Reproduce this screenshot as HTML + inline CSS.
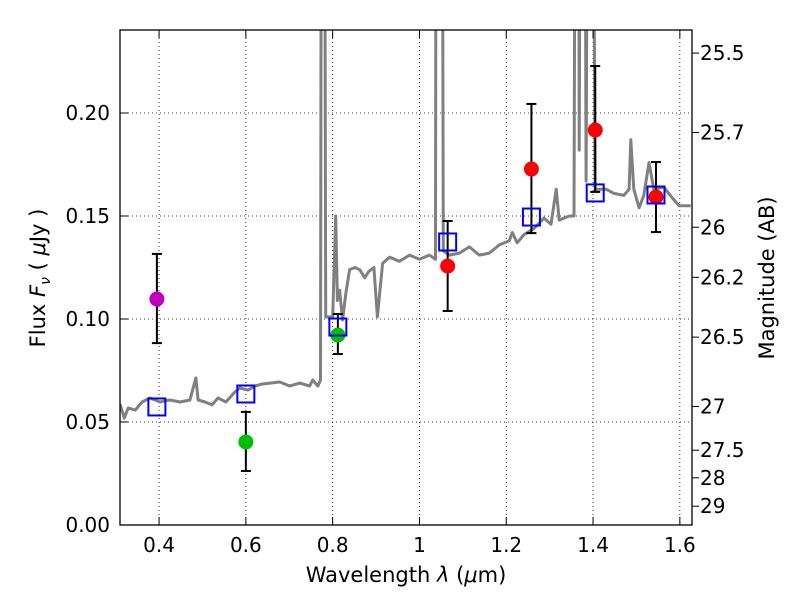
<!DOCTYPE html>
<html><head><meta charset="utf-8"><style>
body{margin:0;background:#fff}
svg{display:block;font-family:"DejaVu Sans","Liberation Sans",sans-serif}
</style></head><body>
<svg id="chart" width="800" height="600">
<defs><clipPath id="clip"><rect x="120" y="30" width="572" height="495"/></clipPath></defs>
<rect width="800" height="600" fill="#fff"/>
<g id="grid"></g>
<g id="spec" clip-path="url(#clip)"></g>
<g id="marks" clip-path="url(#clip)"></g>
<rect x="120" y="30" width="572" height="495" fill="none" stroke="#000" stroke-width="1.3"/>
<g id="axes"></g>
<text x="406" y="582" font-size="21" text-anchor="middle">Wavelength  <tspan font-style="italic">λ</tspan> (<tspan font-style="italic">μ</tspan>m)</text>
<text transform="translate(45,278) rotate(-90)" font-size="21" text-anchor="middle">Flux  <tspan font-style="italic">F</tspan><tspan font-style="italic" font-size="14" dy="5">ν</tspan><tspan dy="-5">  (  </tspan><tspan font-style="italic">μ</tspan>Jy )</text>
<text transform="translate(774,278) rotate(-90)" font-size="21" text-anchor="middle">Magnitude (AB)</text>
</svg>
<script>
const xTicks=[0.4,0.6,0.8,1.0,1.2,1.4,1.6];
const xTickLabels=["0.4","0.6","0.8","1","1.2","1.4","1.6"];
const yTicks=[0,0.05,0.10,0.15,0.20];
const yTickLabels=["0.00","0.05","0.10","0.15","0.20"];
const magTicks=[25.5,25.7,26,26.2,26.5,27,27.5,28,29];
const magTickLabels=["25.5","25.7","26","26.2","26.5","27","27.5","28","29"];
const specLam=[0.310,0.320,0.329,0.345,0.361,0.379,0.402,0.425,0.448,0.471,0.485,0.490,0.506,0.522,0.536,0.554,0.575,0.586,0.605,0.621,0.637,0.655,0.678,0.701,0.724,0.747,0.754,0.766,0.772,0.775,0.780,0.784,0.800,0.807,0.811,0.816,0.823,0.830,0.839,0.851,0.862,0.874,0.883,0.895,0.903,0.915,0.931,0.954,0.977,1.000,1.023,1.037,1.039,1.051,1.055,1.069,1.092,1.115,1.138,1.161,1.184,1.207,1.214,1.225,1.241,1.264,1.287,1.303,1.315,1.322,1.345,1.356,1.361,1.366,1.368,1.373,1.379,1.384,1.390,1.396,1.405,1.430,1.448,1.471,1.483,1.487,1.494,1.506,1.517,1.529,1.540,1.563,1.582,1.598,1.625];
const specFlux=[0.0587,0.0519,0.0568,0.0558,0.0597,0.0617,0.0597,0.0607,0.0597,0.0607,0.0714,0.0607,0.0597,0.0583,0.0617,0.0597,0.0646,0.0665,0.0655,0.0675,0.0684,0.0689,0.0694,0.0675,0.0689,0.0675,0.0704,0.0675,0.0704,0.5,0.5,0.101,0.101,0.150,0.109,0.114,0.0995,0.112,0.124,0.125,0.124,0.120,0.123,0.125,0.101,0.127,0.130,0.128,0.131,0.129,0.131,0.129,0.5,0.5,0.133,0.131,0.132,0.135,0.131,0.132,0.136,0.138,0.142,0.137,0.141,0.144,0.149,0.146,0.163,0.148,0.150,0.150,0.5,0.5,0.182,0.5,0.5,0.167,0.5,0.5,0.163,0.163,0.161,0.160,0.163,0.187,0.163,0.154,0.160,0.176,0.163,0.164,0.159,0.155,0.155];
const bandLam=[0.395,0.600,0.812,1.065,1.258,1.405,1.545];
const modelFlux=[0.0573,0.0636,0.0961,0.1374,0.1495,0.1612,0.1602];
const obsFlux=[0.1097,0.0403,0.0922,0.1257,0.1728,0.1917,0.1592];
const errLow=[0.0883,0.0262,0.0830,0.1039,0.1417,0.1617,0.1422];
const errHigh=[0.1316,0.0549,0.1024,0.1476,0.2044,0.2228,0.1762];
const obsColor=["#bf00bf","#00bf00","#00bf00","#ff0000","#ff0000","#ff0000","#ff0000"];

const X0=120,X1=692,Y0=525,Y1=30,LMIN=0.31,LMAX=1.628,FMIN=0,FMAX=0.2403;
const sx=l=>X0+(l-LMIN)/(LMAX-LMIN)*(X1-X0);
const sy=f=>Y0-(f-FMIN)/(FMAX-FMIN)*(Y0-Y1);
const NS="http://www.w3.org/2000/svg";
function mk(parent,tag,attrs){const e=document.createElementNS(NS,tag);for(const k in attrs)e.setAttribute(k,attrs[k]);document.getElementById(parent).appendChild(e);return e;}

xTicks.forEach((t,i)=>{
  const x=sx(t);
  const g=mk('grid','line',{x1:x,x2:x,y1:Y1,y2:Y0,stroke:'#000','stroke-width':0.8,'stroke-dasharray':'1,3'});
  
  
  const a=mk('axes','line',{x1:x,x2:x,y1:Y0,y2:Y0-8,stroke:'#000','stroke-width':1});
  
  
  const b=mk('axes','line',{x1:x,x2:x,y1:Y1,y2:Y1+8,stroke:'#000','stroke-width':1});
  
  
  const tx=mk('axes','text',{x:x,y:552,'font-size':20,'text-anchor':'middle'});
  tx.textContent=xTickLabels[i];
  
  
});
yTicks.forEach((t,i)=>{
  const y=sy(t);
  const g=mk('grid','line',{x1:X0,x2:X1,y1:y,y2:y,stroke:'#000','stroke-width':0.8,'stroke-dasharray':'1,3'});
  
  
  const a=mk('axes','line',{x1:X0,x2:X0+8,y1:y,y2:y,stroke:'#000','stroke-width':1});
  
  
  const tx=mk('axes','text',{x:110,y:y+7,'font-size':20,'text-anchor':'end'});
  tx.textContent=yTickLabels[i];
  
  
});
magTicks.forEach((m,i)=>{
  const y=sy(Math.pow(10,(23.9-m)/2.5));
  const a=mk('axes','line',{x1:X1,x2:X1+7,y1:y,y2:y,stroke:'#000','stroke-width':1});
  
  
  const tx=mk('axes','text',{x:700,y:y+7,'font-size':20,'text-anchor':'start'});
  tx.textContent=magTickLabels[i];
  
  
});
const pts=specLam.map((l,i)=>sx(l).toFixed(1)+','+sy(specFlux[i]).toFixed(1)).join(' ');
const sp=mk('spec','polyline',{points:pts,fill:'none',stroke:'#808080','stroke-width':3,'stroke-linejoin':'round'});


bandLam.forEach((l,i)=>{
  const x=sx(l);
  const e=mk('marks','g',{});
  
  
  const yl=sy(errLow[i]),yh=sy(errHigh[i]);
  [[x,yl,x,yh],[x-5,yl,x+5,yl],[x-5,yh,x+5,yh]].forEach(c=>{
    const ln=document.createElementNS(NS,'line');
    ln.setAttribute('x1',c[0]);ln.setAttribute('y1',c[1]);ln.setAttribute('x2',c[2]);ln.setAttribute('y2',c[3]);
    ln.setAttribute('stroke','#000');ln.setAttribute('stroke-width',2);e.appendChild(ln);
  });
  const c=mk('marks','circle',{cx:x,cy:sy(obsFlux[i]),r:7.5,fill:obsColor[i]});
  
  
  const s=mk('marks','rect',{x:sx(l)-8.5,y:sy(modelFlux[i])-8.5,width:17,height:17,fill:'none',stroke:'#0000ff','stroke-width':2});
  
  
});
</script>
</body></html>
